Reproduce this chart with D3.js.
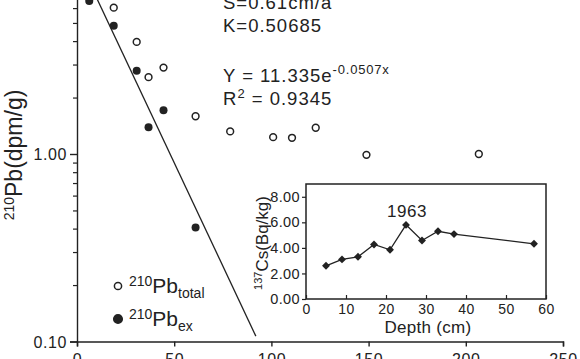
<!DOCTYPE html>
<html><head><meta charset="utf-8">
<script src="https://cdn.jsdelivr.net/npm/d3@7"></script>
<style>
body{margin:0;background:#fff;}
text{font-family:"Liberation Sans",Arial,sans-serif;fill:#222;}
</style></head>
<body>
<svg id="c" width="580" height="359"></svg>
<script>
// ---- data ----
const depthTotal = [18.9, 30.7, 36.8, 44.5, 61, 78.8, 100.9, 110.6, 122.8, 148.9, 206.7];
const pbTotal    = [6.03, 3.96, 2.57, 2.89, 1.59, 1.32, 1.23, 1.22, 1.38, 0.99, 1.00];
const depthEx    = [6.3, 18.9, 30.7, 36.8, 44.5, 61];
const pbEx       = [6.55, 4.83, 2.78, 1.39, 1.71, 0.405];
const fitA = 11.335, fitB = 0.0507, fitDepth = [0, 92];
const xTicks = [0, 50, 100, 150, 200, 250];
const yMajor = [0.1, 1, 10];
const csDepth = [5, 9, 13, 17, 21, 25, 29, 33, 37, 57];
const csValue = [2.6, 3.1, 3.3, 4.27, 3.85, 5.8, 4.58, 5.3, 5.08, 4.32];
const csXTicks = [0, 10, 20, 30, 40, 50, 60];
const csYTicks = [0, 2, 4, 6, 8];

const svg = d3.select("#c");
const ink = "#222";
const FF = '"Liberation Sans",Arial,sans-serif';

// ---- main scales ----
const x = d3.scaleLinear().domain([0, 250]).range([77, 563]);
const y = d3.scaleLog().domain([0.1, 10]).range([341.5, -33.5]);

// minor ticks
const minor = [];
[0.1, 1].forEach(d => { for (let k = 2; k <= 9; k++) minor.push(+(d * k).toFixed(3)); });

const yAxMinor = d3.axisLeft(y).tickValues(minor).tickSize(4).tickFormat("");
svg.append("g").attr("transform", "translate(77,0)").call(yAxMinor)
  .call(g => g.select(".domain").remove())
  .selectAll("line").attr("stroke", ink).attr("stroke-width", 1.2);

const yAx = d3.axisLeft(y).tickValues(yMajor).tickSize(7).tickPadding(3).tickFormat(d3.format(".2f"));
svg.append("g").attr("transform", "translate(77,0)").call(yAx)
  .call(g => g.select(".domain").attr("stroke", ink).attr("stroke-width", 1.4))
  .call(g => g.selectAll("line").attr("stroke", ink).attr("stroke-width", 1.4))
  .call(g => g.selectAll("text").attr("font-size", 16).attr("fill", ink)
      .attr("font-family", FF).attr("letter-spacing", 0.6).attr("dy", "0.36em"));

const xAx = d3.axisBottom(x).tickValues(xTicks).tickSize(5).tickPadding(7).tickFormat(d3.format("d"));
svg.append("g").attr("transform", "translate(0,341.5)").call(xAx)
  .call(g => g.select(".domain").attr("stroke", ink).attr("stroke-width", 1.4))
  .call(g => g.selectAll("line").attr("stroke", ink).attr("stroke-width", 1.4))
  .call(g => g.selectAll("text").attr("font-size", 16).attr("fill", ink)
      .attr("font-family", FF).attr("letter-spacing", 0.6));

// y label
const yl = svg.append("text").attr("transform", "translate(22,155) rotate(-90)")
  .attr("text-anchor", "middle").attr("font-size", 23);
yl.append("tspan").attr("font-size", 14).attr("dy", -8).text("210");
yl.append("tspan").attr("dy", 8).text("Pb(dpm/g)");

// fit line
const line = d3.line().x(d => x(d)).y(d => y(fitA * Math.exp(-fitB * d)));
svg.append("path").datum(fitDepth).attr("d", line).attr("fill", "none")
  .attr("stroke", ink).attr("stroke-width", 1.3);

// points
svg.append("g").selectAll("circle").data(depthTotal).join("circle")
  .attr("cx", d => x(d)).attr("cy", (d, i) => y(pbTotal[i])).attr("r", 3.4)
  .attr("fill", "#fff").attr("stroke", ink).attr("stroke-width", 1.5);
svg.append("g").selectAll("circle").data(depthEx).join("circle")
  .attr("cx", d => x(d)).attr("cy", (d, i) => y(pbEx[i])).attr("r", 4)
  .attr("fill", ink);

// annotations
const ann = (t, yy) => svg.append("text").attr("x", 223).attr("y", yy)
  .attr("font-size", 18.5).attr("letter-spacing", 1).text(t);
ann("S=0.61cm/a", 9);
ann("K=0.50685", 32);
const eq = svg.append("text").attr("x", 223).attr("y", 82).attr("font-size", 18.5).attr("letter-spacing", 1);
eq.append("tspan").text("Y = 11.335e");
eq.append("tspan").attr("font-size", 13).attr("dy", -8).attr("letter-spacing", 0.8).text("-0.0507x");
const r2 = svg.append("text").attr("x", 223).attr("y", 105).attr("font-size", 18.5).attr("letter-spacing", 1);
r2.append("tspan").text("R");
r2.append("tspan").attr("font-size", 13).attr("dy", -7).text("2");
r2.append("tspan").attr("dy", 7).text(" = 0.9345");

// legend
const legend = [{y: 286, fill: "#fff", sub: "total"}, {y: 319, fill: ink, sub: "ex"}];
legend.forEach(l => {
  svg.append("circle").attr("cx", 118).attr("cy", l.y).attr("r", l.fill === "#fff" ? 3.6 : 4.3)
    .attr("fill", l.fill).attr("stroke", ink).attr("stroke-width", 1.5);
  const t = svg.append("text").attr("x", 129).attr("y", l.y + 7).attr("font-size", 21);
  t.append("tspan").attr("font-size", 14).attr("dy", -7).text("210");
  t.append("tspan").attr("dy", 7).text("Pb");
  t.append("tspan").attr("font-size", 14).attr("dy", 5).text(l.sub);
});

// ---- inset ----
const ix = d3.scaleLinear().domain([0, 60]).range([306, 546]);
const iy = d3.scaleLinear().domain([0, 9]).range([299, 184]);
svg.append("rect").attr("x", 306).attr("y", 184).attr("width", 240).attr("height", 115)
  .attr("fill", "#fff").attr("stroke", ink).attr("stroke-width", 1.5);

const iyAx = d3.axisLeft(iy).tickValues(csYTicks).tickSize(4).tickPadding(2).tickFormat(d3.format(".2f"));
svg.append("g").attr("transform", "translate(306,0)").call(iyAx)
  .call(g => g.select(".domain").remove())
  .call(g => g.selectAll("line").attr("stroke", ink).attr("stroke-width", 1.2))
  .call(g => g.selectAll("text").attr("font-size", 14.5).attr("fill", ink)
     .attr("font-family", FF).attr("letter-spacing", 0.4));

const ixAx = d3.axisBottom(ix).tickValues(csXTicks).tickSizeInner(-4).tickSizeOuter(0).tickPadding(5).tickFormat(d3.format("d"));
svg.append("g").attr("transform", "translate(0,299)").call(ixAx)
  .call(g => g.select(".domain").remove())
  .call(g => g.selectAll("line").attr("stroke", ink).attr("stroke-width", 1.2))
  .call(g => g.selectAll("text").attr("font-size", 14).attr("fill", ink)
     .attr("font-family", FF).attr("letter-spacing", 0.4));

svg.append("text").attr("x", 428).attr("y", 333).attr("text-anchor", "middle")
  .attr("font-size", 17).attr("letter-spacing", 0.3).text("Depth (cm)");

const il = svg.append("text").attr("transform", "translate(268,243) rotate(-90)")
  .attr("text-anchor", "middle").attr("font-size", 17);
il.append("tspan").attr("font-size", 11).attr("dy", -6).text("137");
il.append("tspan").attr("dy", 6).text("Cs(Bq/kg)");

const csLine = d3.line().x(d => ix(d)).y((d, i) => iy(csValue[i]));
svg.append("path").datum(csDepth).attr("d", csLine).attr("fill", "none")
  .attr("stroke", ink).attr("stroke-width", 1.3);
svg.append("g").selectAll("path").data(csDepth).join("path")
  .attr("d", d3.symbol(d3.symbolDiamond2, 40))
  .attr("transform", (d, i) => `translate(${ix(d)},${iy(csValue[i])})`)
  .attr("fill", ink);

svg.append("text").attr("x", 407).attr("y", 217).attr("text-anchor", "middle")
  .attr("font-size", 17).attr("letter-spacing", 0.5).text("1963");
</script>
</body></html>
